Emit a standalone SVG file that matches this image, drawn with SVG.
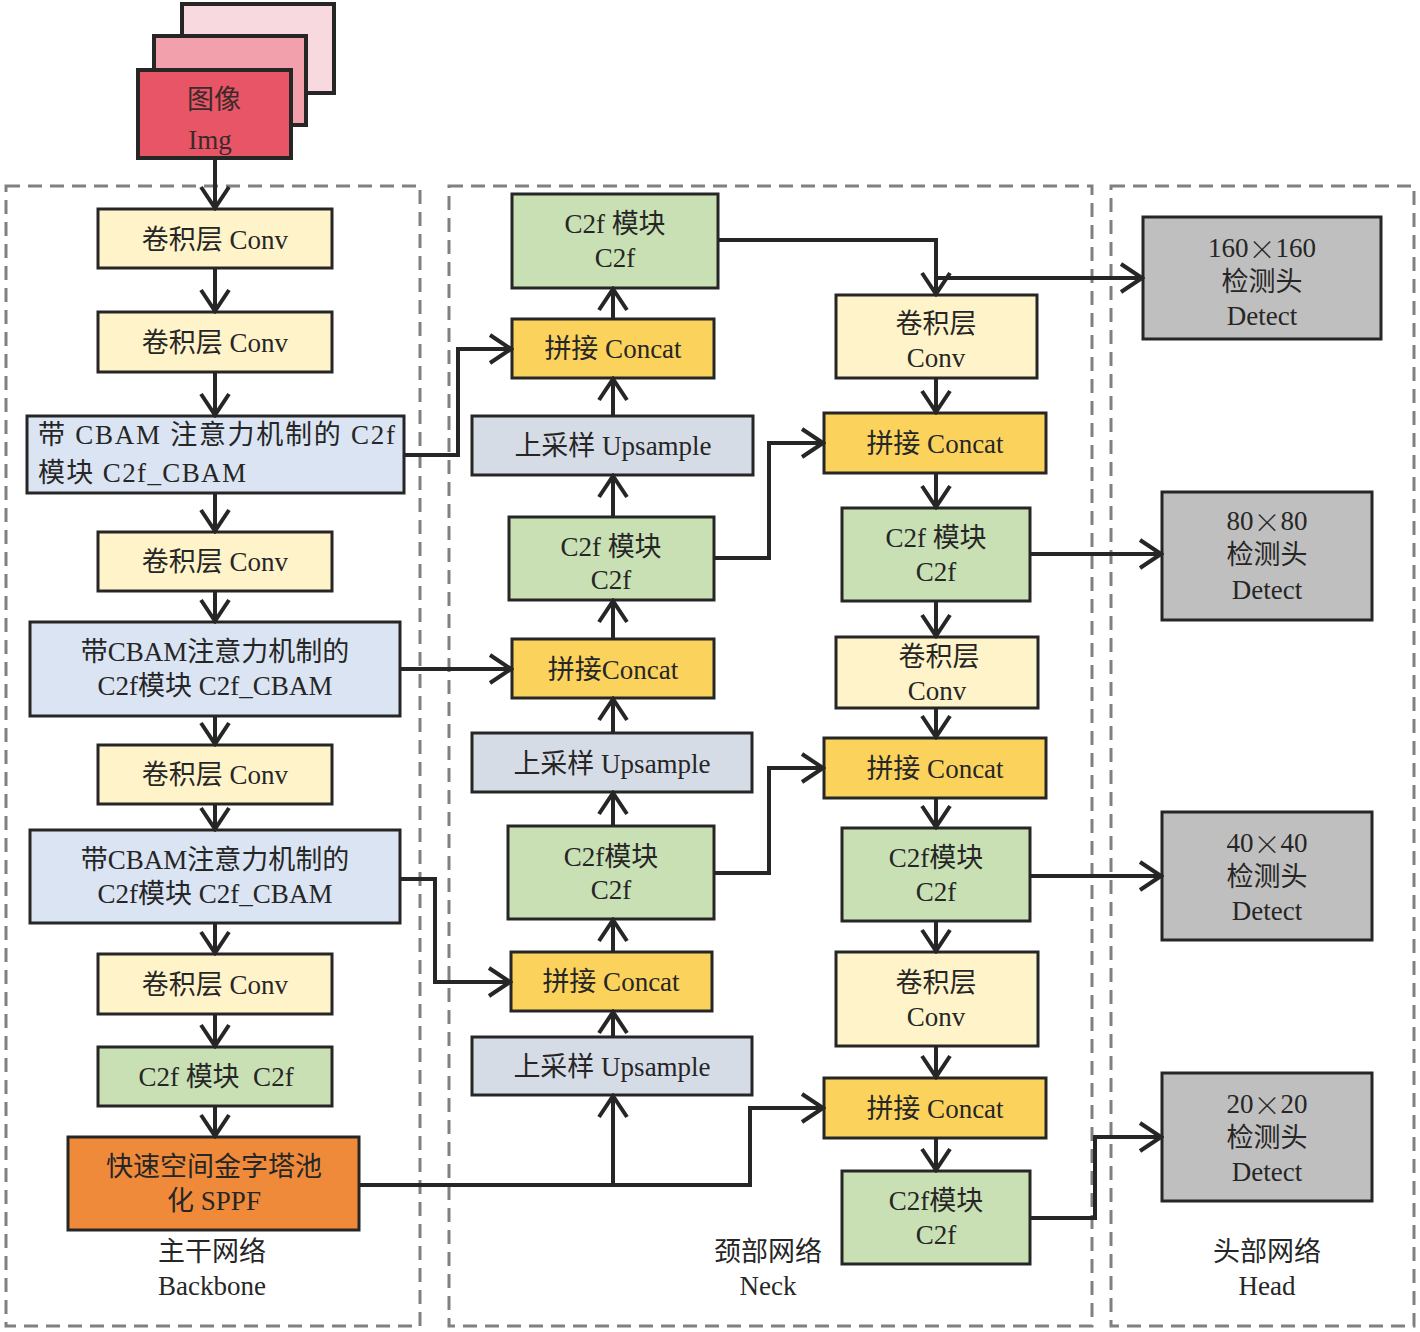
<svg xmlns="http://www.w3.org/2000/svg" width="1420" height="1332" viewBox="0 0 1420 1332">
<defs>
<style>
.box{stroke:#262626;stroke-width:3}
.conv{fill:#fff3c9}
.cbam{fill:#dae4f3}
.c2f{fill:#c9e0b5}
.cat{fill:#fbd35c}
.up{fill:#d6dce6}
.sppf{fill:#f08a3b}
.det{fill:#bfbfbf}
.grp{fill:none;stroke:#808080;stroke-width:3;stroke-dasharray:14 8}
text{font-family:"Liberation Serif","Noto Sans CJK SC",serif;font-size:27px;fill:#262626;text-anchor:middle;dominant-baseline:central}
.l{text-anchor:start}
.x{font-family:"Noto Sans CJK SC",sans-serif;font-weight:300}
.cn path{fill:none;stroke:#262626;stroke-width:4;marker-end:url(#ah)}
</style>
<marker id="ah" viewBox="0 0 26 32" refX="23" refY="16" markerWidth="26" markerHeight="32" markerUnits="userSpaceOnUse" orient="auto">
<path d="M2,2 L23,16 L2,30" fill="none" stroke="#262626" stroke-width="4"/>
</marker>
</defs>
<rect width="1420" height="1332" fill="#fff"/>

<g id="groups">
<rect class="grp" x="6" y="186" width="414" height="1140"/>
<rect class="grp" x="449" y="186" width="643" height="1140"/>
<rect class="grp" x="1111" y="186" width="303" height="1140"/>
<text x="212" y="1252">主干网络</text>
<text x="212" y="1286">Backbone</text>
<text x="768" y="1252">颈部网络</text>
<text x="768" y="1286">Neck</text>
<text x="1267" y="1252">头部网络</text>
<text x="1267" y="1286">Head</text>
</g>

<g id="img">
<rect x="182" y="4" width="152" height="89" fill="#f9d9e0" stroke="#262626" stroke-width="4"/>
<rect x="154" y="36" width="152" height="89" fill="#f2a0ab" stroke="#262626" stroke-width="4"/>
<rect x="138" y="70" width="153" height="88" fill="#e85567" stroke="#262626" stroke-width="4"/>
<text x="214" y="100" style="fill:#3a2a2a">图像</text>
<text x="210" y="140" style="fill:#3a2a2a">Img</text>
</g>

<g id="bb-conv1"><rect class="box conv" x="98" y="209" width="234" height="59"/><text x="215" y="240">卷积层 Conv</text></g>
<g id="bb-conv2"><rect class="box conv" x="98" y="312" width="234" height="60"/><text x="215" y="343">卷积层 Conv</text></g>
<g id="bb-cbam1"><rect class="box cbam" x="27" y="416" width="377" height="77"/><text class="l" x="38" y="435" textLength="357" lengthAdjust="spacing">带 CBAM 注意力机制的 C2f</text><text class="l" x="38" y="473" textLength="208" lengthAdjust="spacing">模块 C2f_CBAM</text></g>
<g id="bb-conv3"><rect class="box conv" x="98" y="532" width="234" height="59"/><text x="215" y="562">卷积层 Conv</text></g>
<g id="bb-cbam2"><rect class="box cbam" x="30" y="622" width="370" height="94"/><text x="215" y="652">带CBAM注意力机制的</text><text x="215" y="686">C2f模块 C2f_CBAM</text></g>
<g id="bb-conv4"><rect class="box conv" x="98" y="745" width="234" height="59"/><text x="215" y="775">卷积层 Conv</text></g>
<g id="bb-cbam3"><rect class="box cbam" x="30" y="830" width="370" height="93"/><text x="215" y="860">带CBAM注意力机制的</text><text x="215" y="894">C2f模块 C2f_CBAM</text></g>
<g id="bb-conv5"><rect class="box conv" x="98" y="954" width="234" height="60"/><text x="215" y="985">卷积层 Conv</text></g>
<g id="bb-c2f"><rect class="box c2f" x="98" y="1047" width="234" height="59"/><text x="216" y="1077" style="white-space:pre">C2f 模块  C2f</text></g>
<g id="bb-sppf"><rect class="box sppf" x="68" y="1137" width="291" height="93"/><text x="214" y="1167">快速空间金字塔池</text><text x="214" y="1201">化 SPPF</text></g>

<g id="nk-c2f1"><rect class="box c2f" x="512" y="194" width="206" height="94"/><text x="615" y="224">C2f 模块</text><text x="615" y="258">C2f</text></g>
<g id="nk-cat1"><rect class="box cat" x="512" y="319" width="202" height="59"/><text x="613" y="349">拼接 Concat</text></g>
<g id="nk-up1"><rect class="box up" x="472" y="416" width="281" height="59"/><text x="613" y="446">上采样 Upsample</text></g>
<g id="nk-c2f2"><rect class="box c2f" x="509" y="517" width="205" height="83"/><text x="611" y="547">C2f 模块</text><text x="611" y="580">C2f</text></g>
<g id="nk-cat2"><rect class="box cat" x="512" y="639" width="202" height="59"/><text x="613" y="670">拼接Concat</text></g>
<g id="nk-up2"><rect class="box up" x="472" y="733" width="280" height="59"/><text x="612" y="764">上采样 Upsample</text></g>
<g id="nk-c2f3"><rect class="box c2f" x="508" y="826" width="206" height="93"/><text x="611" y="857">C2f模块</text><text x="611" y="890">C2f</text></g>
<g id="nk-cat3"><rect class="box cat" x="511" y="952" width="201" height="59"/><text x="611" y="982">拼接 Concat</text></g>
<g id="nk-up3"><rect class="box up" x="472" y="1037" width="280" height="58"/><text x="612" y="1067">上采样 Upsample</text></g>

<g id="nk-conv1"><rect class="box conv" x="836" y="295" width="201" height="83"/><text x="936" y="324">卷积层</text><text x="936" y="358">Conv</text></g>
<g id="nk-cat4"><rect class="box cat" x="824" y="413" width="222" height="60"/><text x="935" y="444">拼接 Concat</text></g>
<g id="nk-c2f4"><rect class="box c2f" x="842" y="508" width="188" height="93"/><text x="936" y="538">C2f 模块</text><text x="936" y="572">C2f</text></g>
<g id="nk-conv2"><rect class="box conv" x="836" y="637" width="202" height="71"/><text x="939" y="657">卷积层</text><text x="937" y="691">Conv</text></g>
<g id="nk-cat5"><rect class="box cat" x="824" y="738" width="222" height="60"/><text x="935" y="769">拼接 Concat</text></g>
<g id="nk-c2f5"><rect class="box c2f" x="842" y="828" width="188" height="93"/><text x="936" y="858">C2f模块</text><text x="936" y="892">C2f</text></g>
<g id="nk-conv3"><rect class="box conv" x="836" y="952" width="202" height="94"/><text x="936" y="983">卷积层</text><text x="936" y="1017">Conv</text></g>
<g id="nk-cat6"><rect class="box cat" x="824" y="1078" width="222" height="60"/><text x="935" y="1109">拼接 Concat</text></g>
<g id="nk-c2f6"><rect class="box c2f" x="842" y="1171" width="188" height="93"/><text x="936" y="1201">C2f模块</text><text x="936" y="1235">C2f</text></g>

<g id="hd-det1"><rect class="box det" x="1143" y="217" width="238" height="122"/><text x="1262" y="248">160<tspan class="x">×</tspan>160</text><text x="1262" y="282">检测头</text><text x="1262" y="316">Detect</text></g>
<g id="hd-det2"><rect class="box det" x="1162" y="492" width="210" height="128"/><text x="1267" y="521">80<tspan class="x">×</tspan>80</text><text x="1267" y="555">检测头</text><text x="1267" y="590">Detect</text></g>
<g id="hd-det3"><rect class="box det" x="1162" y="812" width="210" height="128"/><text x="1267" y="843">40<tspan class="x">×</tspan>40</text><text x="1267" y="877">检测头</text><text x="1267" y="911">Detect</text></g>
<g id="hd-det4"><rect class="box det" x="1162" y="1073" width="210" height="128"/><text x="1267" y="1104">20<tspan class="x">×</tspan>20</text><text x="1267" y="1138">检测头</text><text x="1267" y="1172">Detect</text></g>

<g id="connectors" class="cn">
<path d="M215,158 V208"/>
<path d="M215,268 V311"/>
<path d="M215,372 V415"/>
<path d="M215,493 V531"/>
<path d="M215,591 V621"/>
<path d="M215,716 V744"/>
<path d="M215,804 V829"/>
<path d="M215,923 V953"/>
<path d="M215,1014 V1046"/>
<path d="M215,1106 V1136"/>
<path d="M404,455 H458 V349 H511"/>
<path d="M400,669 H511"/>
<path d="M400,879 H435 V982 H510"/>
<path d="M359,1185 H750 V1108 H823"/>
<path d="M613,1185 V1096"/>
<path d="M613,319 V289"/>
<path d="M613,416 V379"/>
<path d="M613,517 V476"/>
<path d="M613,639 V601"/>
<path d="M613,733 V699"/>
<path d="M613,826 V793"/>
<path d="M613,952 V920"/>
<path d="M613,1037 V1012"/>
<path d="M718,240 H936 V294"/>
<path d="M936,278 H1142"/>
<path d="M714,558 H769 V443 H823"/>
<path d="M714,873 H769 V768 H823"/>
<path d="M936,378 V412"/>
<path d="M936,473 V507"/>
<path d="M936,601 V636"/>
<path d="M936,708 V737"/>
<path d="M936,798 V827"/>
<path d="M936,921 V951"/>
<path d="M936,1046 V1077"/>
<path d="M936,1138 V1170"/>
<path d="M1030,554 H1161"/>
<path d="M1030,876 H1161"/>
<path d="M1030,1218 H1095 V1137 H1161"/>
</g>
</svg>
